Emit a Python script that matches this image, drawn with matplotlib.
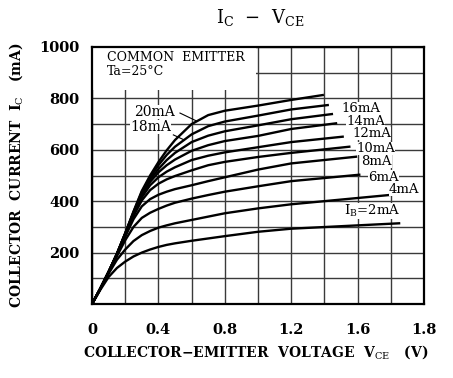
import matplotlib
matplotlib.use('Agg')
import matplotlib.pyplot as plt
from matplotlib.patches import Rectangle

plt.rcParams['font.family'] = ['DejaVu Serif']
plt.rcParams['mathtext.fontset'] = 'dejavuserif'

# common voltage points (V)
vce = [0, 0.05, 0.1, 0.15, 0.2, 0.25, 0.3, 0.35, 0.4, 0.45, 0.5, 0.6, 0.7, 0.8, 1.0, 1.2]

# Ic (mA) for each base current, plus last point of each curve
ic_20 = [0, 60, 125, 195, 275, 360, 440, 500, 552, 598, 638, 700, 735, 752, 772, 794]
ic_18 = [0, 60, 125, 195, 275, 358, 436, 492, 540, 580, 612, 660, 692, 710, 733, 757]
ic_16 = [0, 60, 125, 195, 274, 355, 430, 484, 525, 560, 588, 630, 655, 672, 695, 719]
ic_14 = [0, 60, 125, 195, 273, 352, 424, 475, 512, 540, 562, 596, 618, 634, 654, 681]
ic_12 = [0, 60, 125, 194, 271, 348, 415, 462, 493, 515, 532, 560, 577, 590, 610, 630]
ic_10 = [0, 60, 124, 193, 268, 342, 403, 443, 468, 485, 498, 520, 540, 553, 572, 588]
ic_8 = [0, 60, 124, 191, 262, 330, 380, 408, 425, 437, 447, 462, 478, 493, 523, 547]
ic_6 = [0, 59, 122, 186, 248, 300, 335, 355, 370, 383, 394, 410, 424, 437, 458, 478]
ic_4 = [0, 58, 118, 172, 212, 245, 268, 284, 297, 306, 314, 327, 340, 353, 372, 388]
ic_2 = [0, 55, 105, 140, 165, 185, 200, 212, 222, 230, 236, 246, 255, 264, 281, 293]

curves = [ic_20, ic_18, ic_16, ic_14, ic_12, ic_10, ic_8, ic_6, ic_4, ic_2]
end_v = [1.39, 1.42, 1.445, 1.47, 1.51, 1.55, 1.59, 1.61, 1.79, 1.85]
end_i = [813, 774, 739, 703, 651, 612, 573, 503, 424, 314]

# labels on the right side
right_labels = ['16mA', '14mA', '12mA', '10mA', '8mA', '6mA', '4mA', 'I$_{\\rm B}$=2mA']
right_x = [1.62, 1.65, 1.685, 1.71, 1.715, 1.755, 1.88, 1.69]
right_y = [760, 710, 664, 606, 556, 494, 447, 362]

xticks = [0, 0.4, 0.8, 1.2, 1.6, 2.0]
xtick_labels = ['0', '0.4', '0.8', '1.2', '1.6', '1.8']
yticks = [200, 400, 600, 800, 1000]

fig = plt.figure(figsize=(4.53, 3.78), dpi=100)
ax = fig.add_axes([92/453, 1-304/378, 332/453, 257/378])

ax.set_xlim(0, 2.0)
ax.set_ylim(0, 1000)
ax.set_xticks(xticks)
ax.set_xticklabels(xtick_labels, fontsize=10.5, fontweight='bold')
ax.set_yticks(yticks)
ax.set_yticklabels([str(v) for v in yticks], fontsize=10.5, fontweight='bold')
ax.set_xticks([i * 0.2 for i in range(11)], minor=True)
ax.set_yticks(range(0, 1001, 100), minor=True)
ax.grid(True, which='both', color='#3a3a3a', lw=1.0)
ax.set_axisbelow(True)
ax.tick_params(which='both', length=0)
ax.tick_params(axis='x', pad=14)
ax.tick_params(axis='y', pad=9)
for s in ax.spines.values():
    s.set_linewidth(1.6)
    s.set_zorder(5)

# blank area for the condition text
ax.add_patch(Rectangle((0, 833), 0.99, 167, facecolor='white', edgecolor='none', zorder=1))
ax.text(0.09, 960, 'COMMON  EMITTER', fontsize=9, va='center', zorder=6)
ax.text(0.09, 905, 'Ta=25°C', fontsize=9, va='center', zorder=6)

for ic, ve, ie in zip(curves, end_v, end_i):
    ax.plot(vce + [ve], ic + [ie], color='black', lw=1.7, zorder=3)

box = dict(facecolor='white', edgecolor='none', pad=0.1)
for lab, x, y in zip(right_labels, right_x, right_y):
    ax.text(x, y, lab, fontsize=9.5, ha='center', va='center', bbox=box, zorder=4)

# left labels with leader lines
ax.text(0.378, 747, '20mA', fontsize=10, ha='center', va='center', bbox=box, zorder=4)
ax.plot([0.53, 0.63], [743, 712], color='black', lw=0.8, zorder=4)
ax.text(0.354, 689, '18mA', fontsize=10, ha='center', va='center', bbox=box, zorder=4)
ax.plot([0.49, 0.55], [658, 640], color='black', lw=0.8, zorder=4)

fig.text(260/453, 1-17/378, 'I$_{\\rm C}$  −  V$_{\\rm CE}$', fontsize=13, ha='center', va='center')
fig.text(256/453, 1-352/378, 'COLLECTOR−EMITTER  VOLTAGE  V$_{\\rm CE}$   (V)',
         fontsize=10, fontweight='bold', ha='center', va='center')
fig.text(16/453, 1-175/378, 'COLLECTOR  CURRENT  I$_{\\rm C}$   (mA)', rotation=90,
         fontsize=10, fontweight='bold', ha='center', va='center')

fig.savefig('out.png', dpi=100)
